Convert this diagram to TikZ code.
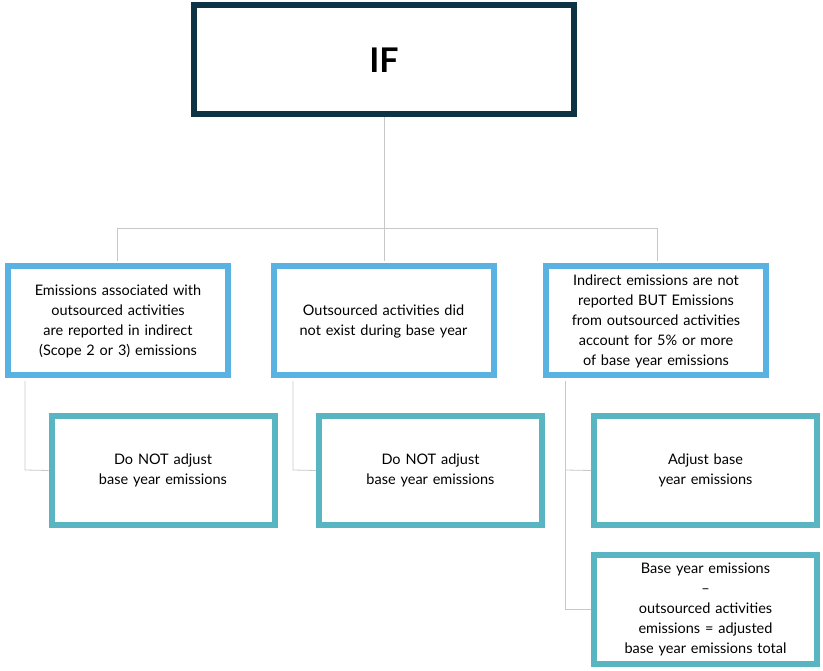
\documentclass[tikz,border=0pt]{standalone}
\usepackage{fontspec}
\setmainfont{Lato}
\definecolor{dark}{HTML}{0E3345}
\definecolor{lblue}{HTML}{5AB2E2}
\definecolor{teal2}{HTML}{5AB5C2}
\definecolor{conn}{HTML}{C8C8C8}
\begin{document}
\begin{tikzpicture}[x=1pt,y=-1pt,
  box/.style={draw, line width=6pt, inner sep=4pt, align=center, font=\fontsize{14.5}{20}\selectfont, text=black},
  cond/.style={box, draw=lblue, minimum width=220pt, minimum height=109pt, text width=205pt},
  res/.style={box, draw=teal2, minimum width=223pt, minimum height=109pt, text width=200pt},
  ln/.style={draw=conn, line width=0.8pt}]
\useasboundingbox (0,0) rectangle (823,671);
\node[box, draw=dark, minimum width=380pt, minimum height=109pt, font=\fontsize{34}{40}\selectfont\bfseries] (top) at (384,60) {IF};
\node[cond] (c1) at (118,321) {Emissions associated with outsourced activities are reported in indirect (Scope 2 or 3) emissions};
\node[cond] (c2) at (383.5,321) {Outsourced activities did not exist during base year};
\node[cond, text width=200pt] (c3) at (656,321) {Indirect emissions are not reported BUT Emissions from outsourced activities account for 5\% or more of base year emissions};
\node[res] (r1) at (163,470.5) {Do NOT adjust base year emissions};
\node[res] (r2) at (430.5,470.5) {Do NOT adjust base year emissions};
\node[res, text width=150pt] (r3) at (705.5,470.5) {Adjust base year emissions};
\node[res, text width=190pt] (r4) at (705.5,609.5) {Base year emissions\\ --\\ outsourced activities emissions = adjusted base year emissions total};
\coordinate (j) at (384,228);
\begin{scope}[on background layer/.try]
\draw[ln] (top.south) -- (j);
\draw[ln] (117,261) -- (117,228) -- (657,228) -- (657,261);
\draw[ln] (384,228) -- (384,261);
\draw[ln] (25,381) -- (25,470) -- (r1.west);
\draw[ln] (293,381) -- (293,470) -- (r2.west);
\draw[ln] (565,381) -- (565,609.5) -- (r4.west);
\draw[ln] (565,470) -- (r3.west);
\end{scope}
\end{tikzpicture}
\end{document}
